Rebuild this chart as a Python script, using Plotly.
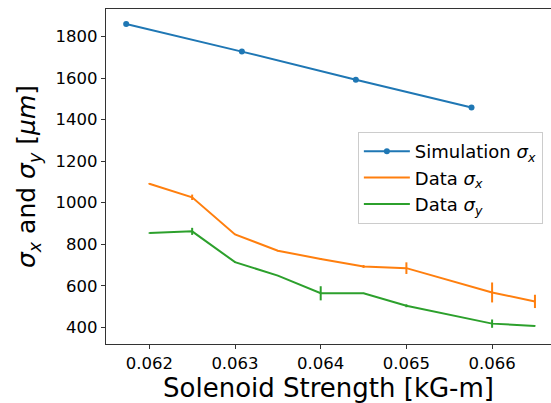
import plotly.graph_objects as go

# Data
sim_x = [0.06173, 0.06308, 0.06441, 0.06576]
sim_sigx = [1860, 1727, 1592, 1458]

data_x = [0.062, 0.0625, 0.063, 0.0635, 0.064, 0.0645, 0.065, 0.066, 0.0665]
data_sigx = [1091, 1026, 847, 769, 729, 693, 685, 568, 525]
data_sigx_err = [3, 13, 3, 3, 4, 7, 28, 48, 32]
data_sigy = [854, 862, 714, 649, 564, 564, 504, 418, 407]
data_sigy_err = [2, 17, 3, 2, 34, 2, 7, 20, 2]

x_ticks = [0.062, 0.063, 0.064, 0.065, 0.066]
y_ticks = [400, 600, 800, 1000, 1200, 1400, 1600, 1800]

FONT = "DejaVu Sans"

fig = go.Figure()
fig.add_trace(go.Scatter(
    x=sim_x, y=sim_sigx, mode="lines+markers",
    name="Simulation <i>σ</i><sub><i>x</i></sub>",
    line=dict(color="#1f77b4", width=2),
    marker=dict(color="#1f77b4", size=6),
))
fig.add_trace(go.Scatter(
    x=data_x, y=data_sigx, mode="lines",
    name="Data <i>σ</i><sub><i>x</i></sub>",
    line=dict(color="#ff7f0e", width=2),
    error_y=dict(type="data", array=data_sigx_err, color="#ff7f0e", thickness=2, width=0),
))
fig.add_trace(go.Scatter(
    x=data_x, y=data_sigy, mode="lines",
    name="Data <i>σ</i><sub><i>y</i></sub>",
    line=dict(color="#2ca02c", width=2),
    error_y=dict(type="data", array=data_sigy_err, color="#2ca02c", thickness=2, width=0),
))

fig.update_layout(
    width=551, height=403,
    margin=dict(l=106, r=0, t=9, b=59, autoexpand=False),
    paper_bgcolor="white", plot_bgcolor="white",
    font=dict(family=FONT, color="black", size=17),
    showlegend=True,
    legend=dict(
        x=0.566, y=0.633, xanchor="left", yanchor="top",
        bgcolor="rgba(255,255,255,0.8)", bordercolor="#cccccc", borderwidth=1,
        font=dict(family=FONT, size=18),
        tracegroupgap=0, itemwidth=46,
    ),
    xaxis=dict(
        range=[0.0614947, 0.0666873], automargin=False,
        tickvals=x_ticks, ticktext=[f"{v:.3f}" for v in x_ticks],
        showgrid=False, zeroline=False,
        showline=True, linecolor="#333333", linewidth=1.2, mirror=True,
        ticks="outside", ticklen=4, tickcolor="#333333", tickwidth=1,
        tickfont=dict(size=16.5),
        title=dict(text="Solenoid Strength [kG-m]", font=dict(size=26), standoff=5),
    ),
    yaxis=dict(
        range=[320, 1932], automargin=False,
        tickvals=y_ticks, ticktext=[str(v) for v in y_ticks],
        showgrid=False, zeroline=False,
        showline=True, linecolor="#333333", linewidth=1.2, mirror=False,
        ticks="outside", ticklen=4, tickcolor="#333333", tickwidth=1,
        tickfont=dict(size=16.5),
        title=dict(text="<i>σ</i><sub><i>x</i></sub> and <i>σ</i><sub><i>y</i></sub> [<i>μm</i>]",
                   font=dict(size=25), standoff=12),
    ),
)

fig.write_html("out.html", config={"displayModeBar": False},
               post_script="document.body.style.margin='0';document.body.style.padding='0';")
